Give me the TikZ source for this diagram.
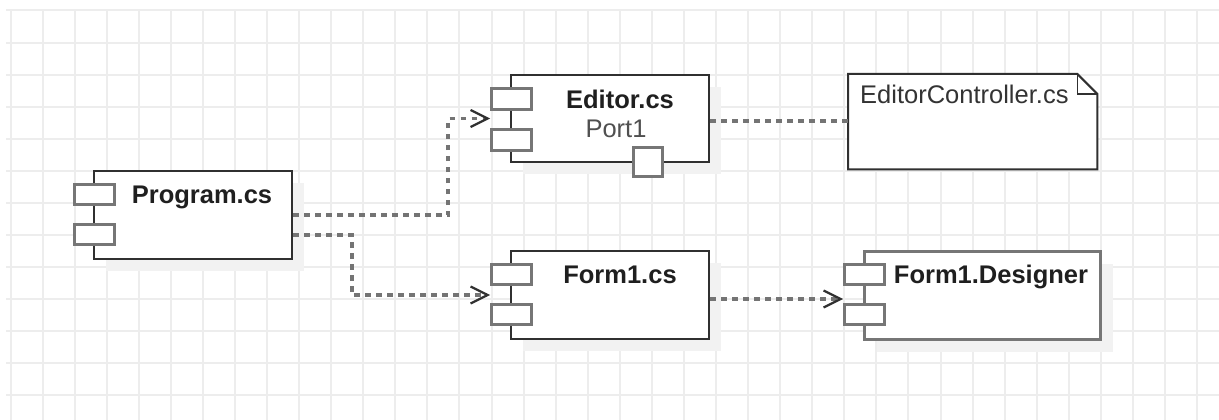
\documentclass[tikz,border=0pt]{standalone}
\usepackage{fontspec}
\setmainfont{Liberation Sans}
\usetikzlibrary{arrows.meta,calc,shadows}

\definecolor{gridc}{HTML}{EDEDED}
\definecolor{shade}{HTML}{F2F2F2}
\definecolor{edge}{HTML}{303030}
\definecolor{portc}{HTML}{767676}
\definecolor{depc}{HTML}{747474}
\definecolor{subtext}{HTML}{505050}

\begin{document}
\begin{tikzpicture}[x=1pt,y=-1pt,
  gridline/.style={draw=gridc, line width=2pt},
  body/.style={draw=edge, line width=2pt, fill=white, inner sep=0pt,
    minimum height=88pt, anchor=north west,
    drop shadow={shadow xshift=12pt, shadow yshift=-12pt, fill=shade, opacity=1}},
  port/.style={draw=portc, line width=2.6pt, fill=white, inner sep=0pt,
    minimum width=40pt, minimum height=20pt, anchor=north west},
  pin/.style={draw=portc, line width=2.6pt, fill=white, inner sep=0pt,
    minimum size=29pt},
  title/.style={font=\fontsize{25.5pt}{30pt}\selectfont\bfseries, text=black!88, anchor=base, inner sep=0pt},
  plain/.style={font=\fontsize{25.5pt}{30pt}\selectfont, inner sep=0pt},
  link/.style={draw=depc, line width=3.2pt, dash pattern=on 5.5pt off 5.5pt},
  dep/.style={link, -{Straight Barb[length=17pt,width=17pt,line width=2.2pt,color=edge]}}
]
% canvas and background grid
\useasboundingbox (0,0) rectangle (1219,420);
\fill[white] (0,0) rectangle (1219,420);
\foreach \i in {0,...,37} \draw[gridline] ({10.5+32.07*\i},10) -- ({10.5+32.07*\i},420);
\foreach \j in {0,...,12} \draw[gridline] (6,{10.5+32.07*\j}) -- (1219,{10.5+32.07*\j});

% components
\node[body, minimum width=198pt] (program) at (93,170) {};
\node[port] (programp1) at (73,183) {};
\node[port] (programp2) at (73,223) {};
\node[title] (programlbl) at (202,203) {Program.cs};

\node[body, minimum width=198pt, minimum height=87pt] (editor) at (510,74) {};
\node[port, minimum height=21pt] (editorp1) at (490,87) {};
\node[port, minimum height=21pt] (editorp2) at (490,128) {};
\node[pin] (editorpin) at (648,162) {};
\node[title] (editorlbl) at (620,108) {Editor.cs};
\node[plain, text=subtext, anchor=base] (portlbl) at (616,137) {Port1};

\node[body, minimum width=198pt] (form) at (510,250) {};
\node[port] (formp1) at (490,263) {};
\node[port] (formp2) at (490,303) {};
\node[title] (formlbl) at (620,283) {Form1.cs};

\node[body, draw=portc, line width=3pt, minimum width=236pt] (designer) at (863,250) {};
\node[port] (designerp1) at (843,263) {};
\node[port] (designerp2) at (843,303) {};
\node[title] (designerlbl) at (991,283) {Form1.Designer};

% note with folded corner
\node[inner sep=0pt, minimum width=249pt, minimum height=95pt, anchor=north west] (note) at (848,74) {};
\draw[edge, line width=2pt, fill=white, line join=miter]
  (note.north west) -- ($(note.north east)+(-20,0)$) -- ($(note.north east)+(0,20)$)
  -- (note.south east) -- (note.south west) -- cycle;
\draw[edge, line width=1.6pt] ($(note.north east)+(-20,0)$) -- ($(note.north east)+(-20,20)$) -- ($(note.north east)+(0,20)$);
\node[plain, text=black!80, anchor=base west] (notelbl) at (860,103) {EditorController.cs};

% dependencies
\draw[dep] (program.east) -- ++(155,0) |- (editorp1.west |- editor.west);
\draw[dep] ($(program.east)+(0,20)$) -- ++(59,0) |- (formp1.west |- form.west);
\draw[link] ($(editor.east)+(0,2.5)$) coordinate (a) -- (a -| note.west);
\draw[dep] ($(form.east)+(0,4)$) coordinate (b) -- (b -| designerp1.west);
\end{tikzpicture}
\end{document}
